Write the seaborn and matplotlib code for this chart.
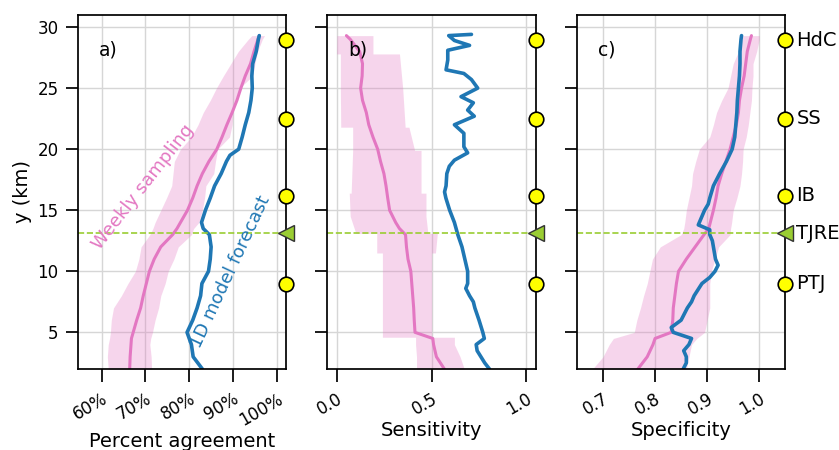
import numpy as np
import pandas as pd
import matplotlib
matplotlib.use("Agg")
import matplotlib.pyplot as plt
import seaborn as sns
from matplotlib.ticker import PercentFormatter

# ---------------- data ----------------
alt = [2, 3, 4, 4.5, 5, 6, 7, 8, 9, 10, 11, 12, 13, 13.5, 14, 15, 16, 17, 18,
       19, 20, 21, 22, 23, 24, 25, 26, 27, 28, 29, 29.3]

# a) percent agreement
agree_mean = [0.664, 0.665, 0.667, 0.668, 0.672, 0.680, 0.689, 0.695, 0.702, 0.709,
              0.720, 0.735, 0.762, 0.772, 0.780, 0.796, 0.808, 0.818, 0.830, 0.845,
              0.863, 0.875, 0.886, 0.898, 0.909, 0.918, 0.928, 0.940, 0.948, 0.957, 0.960]
agree_lo = [0.615, 0.613, 0.615, 0.618, 0.620, 0.622, 0.627, 0.645, 0.660, 0.677,
            0.685, 0.690, 0.710, 0.717, 0.722, 0.735, 0.748, 0.760, 0.763, 0.766,
            0.780, 0.805, 0.820, 0.832, 0.848, 0.862, 0.878, 0.895, 0.912, 0.935, 0.943]
agree_hi = [0.714, 0.713, 0.710, 0.712, 0.716, 0.722, 0.730, 0.735, 0.745, 0.752,
            0.765, 0.775, 0.805, 0.810, 0.822, 0.830, 0.835, 0.838, 0.856, 0.860,
            0.865, 0.892, 0.898, 0.900, 0.905, 0.915, 0.945, 0.950, 0.956, 0.967, 0.972]
alt_agree_model = [2, 3, 4, 4.5, 5, 6, 7, 8, 9, 10, 11, 12, 13, 13.5, 14, 15, 16, 17,
                   18, 19, 19.5, 20, 21, 22, 23, 24, 25, 26, 27, 28, 29, 29.3]
agree_model = [0.830, 0.809, 0.805, 0.800, 0.795, 0.808, 0.818, 0.826, 0.829, 0.844,
               0.848, 0.850, 0.846, 0.832, 0.828, 0.837, 0.848, 0.858, 0.873, 0.885,
               0.893, 0.913, 0.921, 0.928, 0.936, 0.941, 0.944, 0.943, 0.945, 0.953,
               0.958, 0.960]

# b) sensitivity
sens_mean = [0.567, 0.525, 0.510, 0.506, 0.412, 0.408, 0.405, 0.400, 0.395, 0.390,
             0.375, 0.367, 0.362, 0.330, 0.310, 0.278, 0.268, 0.259, 0.248, 0.230,
             0.215, 0.190, 0.168, 0.155, 0.135, 0.125, 0.133, 0.135, 0.120, 0.070, 0.050]
alt_sens_band = [2, 3, 4, 4.6, 4.6, 11.5, 11.5, 13.1, 13.1, 14.5, 16.4, 16.4, 19.9,
                 19.9, 21.8, 21.8, 25, 27.8, 27.8, 29.3]
sens_lo = [0.420, 0.420, 0.415, 0.415, 0.240, 0.240, 0.210, 0.210, 0.100, 0.070,
           0.065, 0.075, 0.083, 0.083, 0.083, 0.020, 0.018, 0.018, -0.002, 0.000]
sens_hi = [0.672, 0.650, 0.620, 0.620, 0.500, 0.500, 0.520, 0.530, 0.480, 0.470,
           0.470, 0.444, 0.444, 0.410, 0.380, 0.360, 0.347, 0.330, 0.190, 0.190]
alt_sens_model = [2, 2.5, 3, 3.5, 4, 4.5, 5, 6, 7, 7.5, 8, 8.6, 9, 10, 11, 12, 13, 14,
                  15, 16, 16.5, 17, 18, 18.6, 19.1, 19.7, 20.2, 20.8, 21.3, 22.0,
                  22.7, 23.2, 23.8, 24.3, 25.0, 25.7, 26.2, 26.5, 27.3, 28.1, 28.5,
                  28.9, 29.3, 29.4]
sens_model = [0.805, 0.780, 0.760, 0.740, 0.735, 0.778, 0.770, 0.750, 0.728, 0.720,
              0.700, 0.680, 0.690, 0.690, 0.675, 0.660, 0.638, 0.620, 0.595, 0.575,
              0.568, 0.576, 0.580, 0.593, 0.620, 0.690, 0.670, 0.670, 0.670, 0.620,
              0.725, 0.690, 0.720, 0.655, 0.743, 0.710, 0.670, 0.576, 0.585, 0.585,
              0.700, 0.620, 0.590, 0.710]

# c) specificity
spec_mean = [0.767, 0.785, 0.796, 0.800, 0.831, 0.834, 0.835, 0.838, 0.841, 0.845,
             0.860, 0.877, 0.894, 0.903, 0.906, 0.912, 0.917, 0.921, 0.928, 0.936,
             0.944, 0.950, 0.956, 0.960, 0.962, 0.966, 0.971, 0.974, 0.977, 0.983, 0.985]
spec_lo = [0.680, 0.700, 0.712, 0.720, 0.760, 0.765, 0.772, 0.778, 0.785, 0.790,
           0.795, 0.810, 0.850, 0.855, 0.857, 0.860, 0.865, 0.870, 0.872, 0.878,
           0.885, 0.905, 0.912, 0.918, 0.928, 0.940, 0.945, 0.950, 0.960, 0.967, 0.969]
spec_hi = [0.860, 0.865, 0.870, 0.880, 0.895, 0.900, 0.905, 0.905, 0.905, 0.908,
           0.915, 0.922, 0.944, 0.945, 0.947, 0.950, 0.957, 0.963, 0.966, 0.968,
           0.969, 0.975, 0.979, 0.982, 0.985, 0.986, 0.988, 0.988, 0.995, 1.000, 1.000]
alt_spec_model = [2, 2.5, 3, 3.5, 4, 4.5, 5, 5.4, 6, 7, 7.5, 8, 9, 9.5, 10, 10.5, 11,
                  12, 12.5, 13, 13.4, 13.8, 14.4, 15, 15.5, 16, 17, 18, 19, 20, 21,
                  22, 23, 24, 25, 26, 27, 28, 29, 29.3]
spec_model = [0.854, 0.860, 0.860, 0.855, 0.865, 0.870, 0.835, 0.831, 0.850, 0.862,
              0.870, 0.875, 0.890, 0.905, 0.915, 0.921, 0.916, 0.912, 0.910, 0.905,
              0.905, 0.883, 0.889, 0.895, 0.902, 0.905, 0.912, 0.924, 0.937, 0.948,
              0.953, 0.955, 0.957, 0.958, 0.960, 0.962, 0.963, 0.963, 0.965, 0.966]

site_names = ["HdC", "SS", "IB", "TJRE", "PTJ"]
site_alt = [28.9, 22.5, 16.2, 13.1, 9.0]
site_kind = ["circle", "circle", "circle", "triangle", "circle"]
tropopause_alt = 13.1

panel_labels = ["a)", "b)", "c)"]
x_labels = ["Percent agreement", "Sensitivity", "Specificity"]

# ---------------- style ----------------
sns.set_theme(context="notebook", style="ticks")
plt.rcParams["font.family"] = ["DejaVu Sans"]
plt.rcParams.update({
    "axes.grid": True,
    "grid.color": "#d6d6d6",
    "grid.linewidth": 1.0,
    "text.color": "black",
    "axes.labelcolor": "black",
    "axes.edgecolor": "black",
    "xtick.color": "black",
    "ytick.color": "black",
    "xtick.major.size": 9,
    "ytick.major.size": 9,
    "xtick.major.pad": 6,
    "ytick.major.pad": 5,
})

PINK = "#e377c2"
BLUE = "#1f77b4"
GREEN = "#9acd32"

fig, axes = plt.subplots(1, 3, figsize=(8.39, 4.5), dpi=100, sharey=True)
fig.subplots_adjust(left=0.093, right=0.936, bottom=0.18, top=0.967, wspace=0.197)

bands = [
    (alt, agree_lo, agree_hi),
    (alt_sens_band, sens_lo, sens_hi),
    (alt, spec_lo, spec_hi),
]
means = [agree_mean, sens_mean, spec_mean]
models = [
    (alt_agree_model, agree_model),
    (alt_sens_model, sens_model),
    (alt_spec_model, spec_model),
]
xlims = [(0.546, 1.022), (-0.05, 1.05), (0.65, 1.05)]
xticks = [[0.6, 0.7, 0.8, 0.9, 1.0], [0.0, 0.5, 1.0], [0.7, 0.8, 0.9, 1.0]]

for i, ax in enumerate(axes):
    ba, lo, hi = bands[i]
    ax.fill_betweenx(ba, lo, hi, color=PINK, alpha=0.3, lw=0)
    df_w = pd.DataFrame({"alt": alt, "val": means[i]})
    sns.lineplot(data=df_w, x="val", y="alt", orient="y", ax=ax, color=PINK, lw=2.2)
    am, mod = models[i]
    df_m = pd.DataFrame({"alt": am, "val": mod})
    sns.lineplot(data=df_m, x="val", y="alt", orient="y", ax=ax, color=BLUE, lw=2.6)
    ax.axhline(tropopause_alt, color=GREEN, ls="--", lw=1.2)
    ax.set_xlim(*xlims[i])
    ax.set_ylim(2, 31)
    ax.set_xticks(xticks[i])
    ax.set_yticks([5, 10, 15, 20, 25, 30])
    ax.tick_params(labelsize=12)
    ax.set_xlabel(x_labels[i], fontsize=14, labelpad=2)
    ax.set_ylabel("")
    ax.text(0.1, 0.9, panel_labels[i], transform=ax.transAxes, fontsize=13.5,
            va="center", ha="left")
    for lab in ax.get_xticklabels():
        lab.set_rotation(30)
        lab.set_ha("right")
        lab.set_rotation_mode("anchor")
    tr = ax.get_yaxis_transform()
    for name, a, kind in zip(site_names, site_alt, site_kind):
        if kind == "circle":
            ax.plot([1.0], [a], marker="o", ms=10.5, mfc="#ffff00", mec="black",
                    mew=1.2, transform=tr, clip_on=False, zorder=5)
        else:
            ax.plot([1.0], [a], marker="<", ms=11, mfc=GREEN, mec="#333333",
                    mew=1.0, transform=tr, clip_on=False, zorder=5)
        if i == 2:
            ax.annotate(name, xy=(1.0, a), xycoords=tr, xytext=(8, 0),
                        textcoords="offset points", va="center", ha="left",
                        fontsize=14)

axes[0].xaxis.set_major_formatter(PercentFormatter(xmax=1, decimals=0))
axes[0].set_ylabel("y (km)", fontsize=14)

axes[0].text(0.695, 16.9, "Weekly sampling", color=PINK, fontsize=13,
             rotation=52, ha="center", va="center")
axes[0].text(0.894, 9.97, "1D model forecast", color=BLUE, fontsize=13,
             rotation=65, ha="center", va="center")

fig.savefig("out.png", dpi=100)
